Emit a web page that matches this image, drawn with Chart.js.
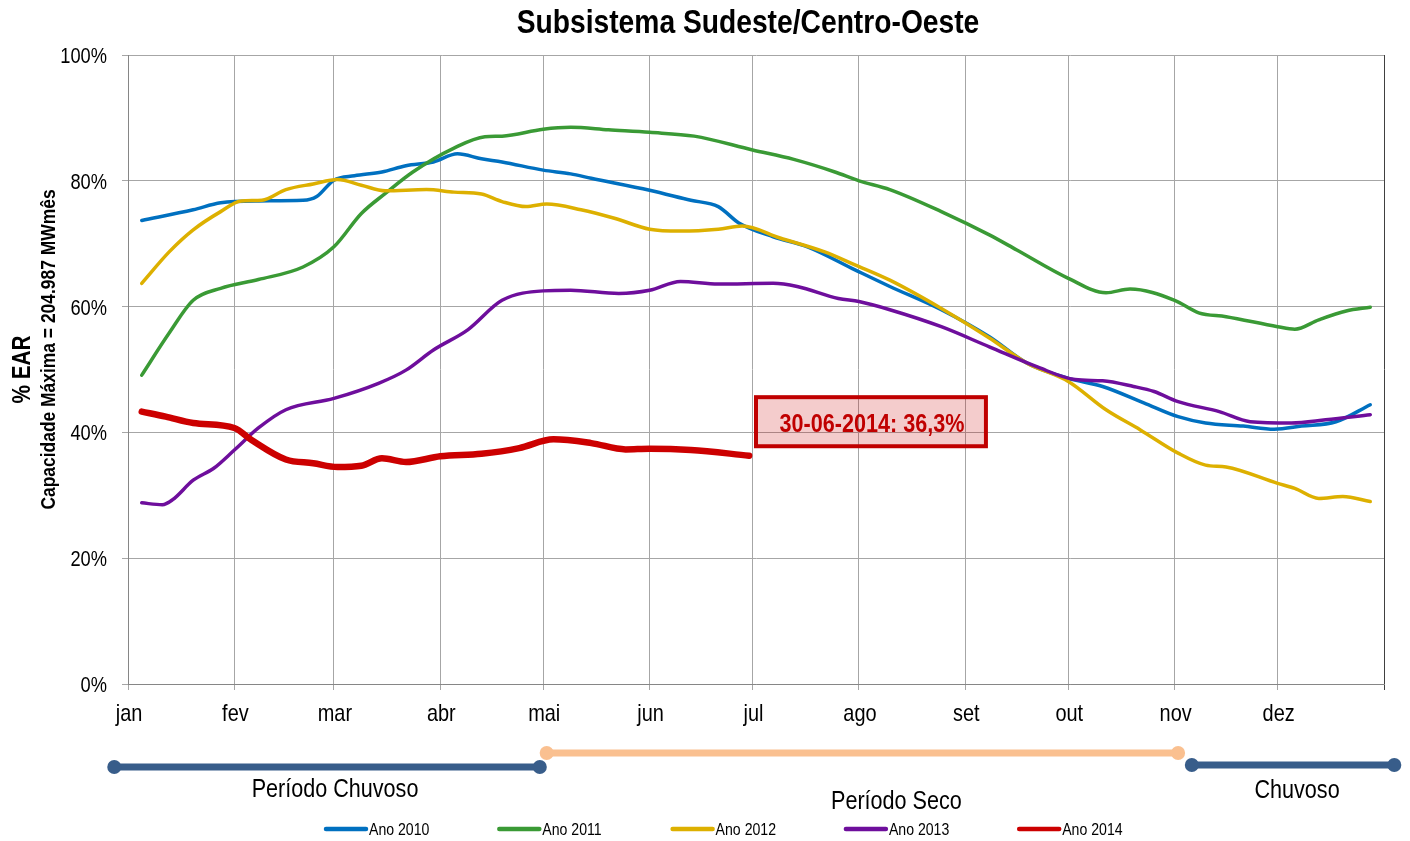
<!DOCTYPE html>
<html lang="pt-BR">
<head>
<meta charset="utf-8">
<title>Subsistema Sudeste/Centro-Oeste</title>
<script src="https://cdn.jsdelivr.net/npm/chart.js@4.4.1/dist/chart.umd.min.js"></script>
<style>
  html, body { margin: 0; padding: 0; background: #fff; }
  #wrap { width: 1410px; height: 841px; }
</style>
</head>
<body>
<div id="wrap"><canvas id="earChart" width="1410" height="841"></canvas></div>
<script>
// Eixo x em dias do ano (ano bissexto, 366 dias)
const meses = ['jan', 'fev', 'mar', 'abr', 'mai', 'jun', 'jul', 'ago', 'set', 'out', 'nov', 'dez'];
const inicioMes = [0, 31, 60, 91, 121, 152, 182, 213, 244, 274, 305, 335];
const fimAno = 366;

const anos = ['Ano 2010', 'Ano 2011', 'Ano 2012', 'Ano 2013', 'Ano 2014'];

// % EAR
const dias2010 = [4, 19, 27, 38, 51, 55, 60, 66, 74, 81, 89, 96, 103, 109, 121, 129, 135, 152, 164, 172, 178, 188, 198, 212, 222, 237, 251, 262, 274, 284, 296, 306, 314, 325, 334, 342, 352, 362];
const ear2010 = [73.7, 75.4, 76.5, 76.8, 76.9, 77.5, 80.1, 80.8, 81.4, 82.4, 83.0, 84.3, 83.5, 83.0, 81.7, 81.1, 80.4, 78.5, 76.9, 75.9, 73.3, 71.1, 69.5, 65.8, 63.2, 59.5, 55.2, 51.0, 48.6, 47.3, 44.7, 42.5, 41.5, 41.0, 40.5, 41.0, 41.7, 44.4];

const dias2011 = [4, 12, 19, 27, 38, 51, 60, 68, 75, 83, 95, 104, 109, 121, 129, 140, 152, 165, 182, 194, 206, 213, 222, 237, 251, 259, 274, 285, 292, 305, 312, 320, 335, 340, 347, 355, 362];
const ear2011 = [49.1, 55.8, 61.0, 62.9, 64.3, 66.3, 69.5, 74.8, 78.0, 81.4, 85.2, 87.0, 87.1, 88.2, 88.5, 88.1, 87.7, 87.1, 84.9, 83.4, 81.4, 80.0, 78.6, 75.1, 71.4, 69.0, 64.5, 62.2, 62.8, 61.0, 59.0, 58.4, 56.8, 56.4, 57.9, 59.3, 59.9];

const dias2012 = [4, 12, 19, 27, 33, 39, 46, 54, 61, 68, 75, 87, 95, 103, 109, 116, 122, 132, 142, 152, 161, 172, 179, 190, 203, 212, 222, 237, 251, 262, 274, 285, 295, 306, 314, 320, 335, 340, 347, 354, 362];
const ear2012 = [63.7, 68.7, 72.2, 75.1, 76.8, 76.9, 78.6, 79.5, 80.2, 79.3, 78.4, 78.6, 78.2, 77.9, 76.7, 75.9, 76.3, 75.4, 74.0, 72.3, 72.0, 72.3, 72.8, 70.9, 68.7, 66.6, 64.2, 59.7, 55.0, 51.0, 48.1, 43.6, 40.4, 36.7, 34.8, 34.5, 31.9, 31.1, 29.5, 29.8, 29.0];

const dias2013 = [4, 10, 13, 19, 25, 31, 38, 46, 60, 73, 81, 89, 99, 109, 121, 129, 143, 152, 161, 172, 188, 195, 207, 213, 222, 237, 251, 265, 276, 284, 293, 299, 306, 318, 327, 339, 349, 362];
const ear2013 = [28.8, 28.5, 29.3, 32.4, 34.3, 37.2, 40.7, 43.6, 45.4, 47.8, 49.9, 53.1, 56.3, 61.0, 62.5, 62.6, 62.1, 62.6, 64.0, 63.6, 63.7, 63.2, 61.3, 60.8, 59.5, 56.8, 53.6, 50.4, 48.4, 48.2, 47.3, 46.5, 44.9, 43.3, 41.7, 41.5, 42.0, 42.8];

const dias2014 = [4, 11, 19, 31, 36, 46, 54, 61, 68, 74, 81, 91, 103, 114, 124, 135, 145, 152, 164, 181];
const ear2014 = [43.3, 42.5, 41.5, 40.7, 38.8, 35.7, 35.1, 34.5, 34.7, 35.9, 35.3, 36.2, 36.6, 37.5, 38.9, 38.3, 37.3, 37.4, 37.2, 36.3];

// Periodos (dias do ano)
const periodoNomes = ['Período Chuvoso', 'Período Seco', 'Chuvoso'];
const periodoInicio = [-4, 122, 310];
const periodoFim = [120, 306, 369];

const dataDestaque = '30-06-2014';

const SANS = '"Liberation Sans", Arial, sans-serif';
const cores = ['#0070C0', '#3A9A35', '#DDB000', '#6E0E9C', '#CC0000'];

function pares(dias, vals) {
    return dias.map((d, i) => ({ x: d, y: vals[i] }));
}

const series = [
    pares(dias2010, ear2010),
    pares(dias2011, ear2011),
    pares(dias2012, ear2012),
    pares(dias2013, ear2013),
    pares(dias2014, ear2014)
];

// texto tipo "Arial Narrow": Liberation Sans comprimida na horizontal
function textoEstreito(ctx, texto, x, y, tamanho, negrito, alinhar, cor, base) {
    ctx.save();
    ctx.translate(x, y);
    ctx.scale(0.83, 1);
    ctx.font = (negrito ? 'bold ' : '') + tamanho + 'px ' + SANS;
    ctx.textAlign = alinhar || 'center';
    ctx.textBaseline = base || 'alphabetic';
    ctx.fillStyle = cor || '#000';
    ctx.fillText(texto, 0, 0);
    ctx.restore();
}

// Titulo, rotulos dos eixos, periodos, legenda e caixa de destaque
const extras = {
    id: 'extras',
    afterDraw(chart) {
        const ctx = chart.ctx;
        const area = chart.chartArea;
        const xs = chart.scales.x;
        const ys = chart.scales.y;
        const meio = (area.left + area.right) / 2;
        ctx.save();

        // titulo
        textoEstreito(ctx, 'Subsistema Sudeste/Centro-Oeste', meio - 8, 33, 34, true);

        // rotulos do eixo y
        ys.ticks.forEach(t => {
            textoEstreito(ctx, t.value + '%', area.left - 21, ys.getPixelForValue(t.value) + 8, 22, false, 'right');
        });

        // rotulos dos meses
        xs.ticks.forEach(t => {
            const i = inicioMes.indexOf(t.value);
            if (i >= 0) {
                textoEstreito(ctx, meses[i], xs.getPixelForValue(t.value) + 1, area.bottom + 37, 24, false);
            }
        });

        // titulo do eixo y
        const centroY = (area.top + area.bottom) / 2;
        ctx.save();
        ctx.translate(23, centroY);
        ctx.rotate(-Math.PI / 2);
        textoEstreito(ctx, '% EAR', 0, 0, 25, true, 'center', '#000', 'middle');
        ctx.restore();
        ctx.save();
        ctx.translate(49, centroY - 20);
        ctx.rotate(-Math.PI / 2);
        textoEstreito(ctx, 'Capacidade Máxima = 204.987 MWmês', 0, 0, 21, true, 'center', '#000', 'middle');
        ctx.restore();

        // barras dos periodos
        const barraY = [83, 69, 81];
        const textoY = [113, 125, 114];
        const textoDx = [8, 34, 4];
        const corBarra = ['#385D8A', '#FAC090', '#385D8A'];
        periodoNomes.forEach((nome, i) => {
            const x0 = xs.getPixelForValue(periodoInicio[i]);
            const x1 = xs.getPixelForValue(periodoFim[i]);
            const y = area.bottom + barraY[i];
            ctx.strokeStyle = corBarra[i];
            ctx.fillStyle = corBarra[i];
            ctx.lineWidth = 7;
            ctx.beginPath();
            ctx.moveTo(x0, y);
            ctx.lineTo(x1, y);
            ctx.stroke();
            [x0, x1].forEach(px => {
                ctx.beginPath();
                ctx.arc(px, y, 7, 0, Math.PI * 2);
                ctx.fill();
            });
            textoEstreito(ctx, nome, (x0 + x1) / 2 + textoDx[i], area.bottom + textoY[i], 26, false);
        });

        // legenda
        const legY = area.bottom + 145;
        anos.forEach((nome, i) => {
            const lx = area.left + 198 + i * 173.3;
            ctx.strokeStyle = cores[i];
            ctx.lineWidth = 4.5;
            ctx.lineCap = 'round';
            ctx.beginPath();
            ctx.moveTo(lx, legY);
            ctx.lineTo(lx + 40, legY);
            ctx.stroke();
            textoEstreito(ctx, nome, lx + 43, legY + 6, 17, false, 'left');
        });

        // caixa de destaque do ultimo valor de 2014
        const ultimo = ear2014[ear2014.length - 1];
        const texto = dataDestaque + ': ' + ultimo.toFixed(1).replace('.', ',') + '%';
        const bx0 = xs.getPixelForValue(183);
        const bx1 = xs.getPixelForValue(250);
        const by0 = ys.getPixelForValue(45.6);
        const by1 = ys.getPixelForValue(37.8);
        ctx.fillStyle = 'rgba(200, 0, 0, 0.2)';
        ctx.fillRect(bx0, by0, bx1 - bx0, by1 - by0);
        ctx.strokeStyle = '#C00000';
        ctx.lineWidth = 4;
        ctx.strokeRect(bx0, by0, bx1 - bx0, by1 - by0);
        textoEstreito(ctx, texto, (bx0 + bx1) / 2 + 1, (by0 + by1) / 2 + 10, 26, true, 'center', '#C00000');

        ctx.restore();
    }
};

const ctx = document.getElementById('earChart').getContext('2d');
new Chart(ctx, {
    type: 'line',
    data: {
        datasets: anos.map((nome, i) => ({
            label: nome,
            data: series[i],
            borderColor: cores[i],
            backgroundColor: cores[i],
            borderWidth: i === 4 ? 6.5 : 3.5,
            pointRadius: 0,
            cubicInterpolationMode: 'monotone',
            borderCapStyle: 'round',
            borderJoinStyle: 'round',
            fill: false,
            order: 4 - i
        }))
    },
    options: {
        responsive: false,
        animation: false,
        devicePixelRatio: 1,
        layout: { padding: { left: 53, right: 26, top: 55, bottom: 117 } },
        plugins: {
            legend: { display: false },
            title: { display: false },
            tooltip: { enabled: false }
        },
        scales: {
            x: {
                type: 'linear',
                min: 0,
                max: fimAno,
                afterBuildTicks(scale) {
                    scale.ticks = inicioMes.concat([fimAno]).map(v => ({ value: v }));
                },
                afterFit(scale) { scale.height = 40; },
                ticks: { display: false },
                grid: {
                    color: c => (c.tick && c.tick.value === fimAno) ? '#404040' : '#A6A6A6',
                    lineWidth: 1,
                    tickLength: 6
                },
                border: { color: '#868686' }
            },
            y: {
                min: 0,
                max: 100,
                afterFit(scale) { scale.width = 75; },
                ticks: { display: false, stepSize: 20 },
                grid: { color: '#A6A6A6', lineWidth: 1, tickLength: 6 },
                border: { color: '#868686' }
            }
        }
    },
    plugins: [extras]
});
</script>
</body>
</html>
